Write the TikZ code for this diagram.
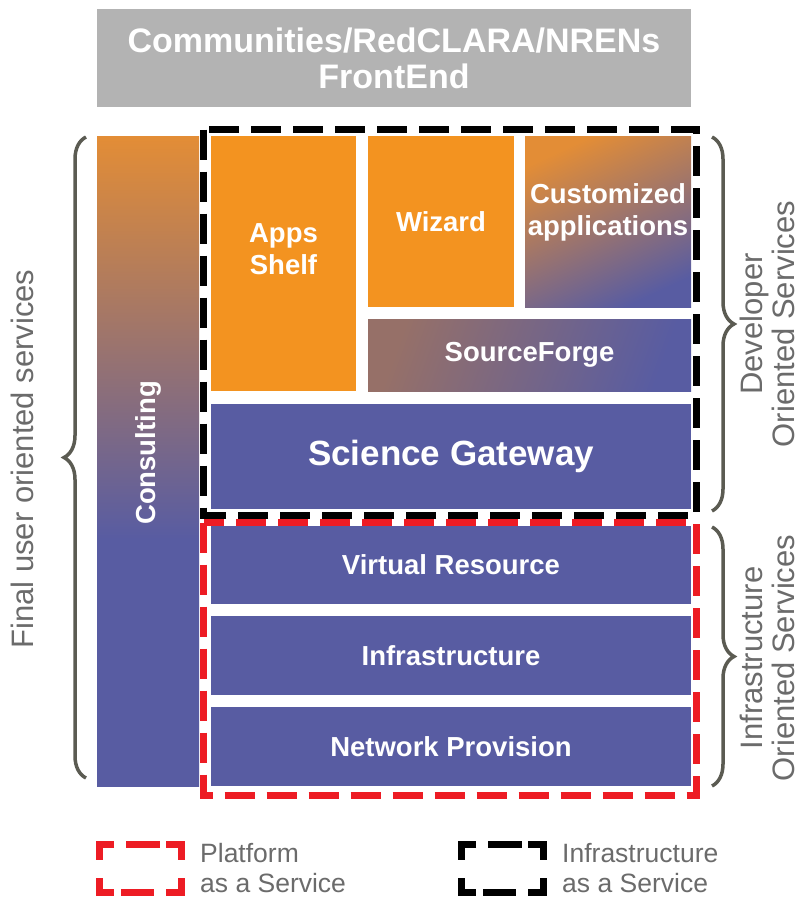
\documentclass[tikz,border=0pt]{standalone}
\usepackage{fontspec}
\setmainfont{Liberation Sans}
\usetikzlibrary{decorations.pathreplacing}

\definecolor{boxorange}{HTML}{F39320}
\definecolor{boxblue}{HTML}{585CA2}
\definecolor{shadeorange}{HTML}{E38D36}
\definecolor{forgemauve}{HTML}{967068}
\definecolor{topgray}{HTML}{B3B3B3}
\definecolor{paasred}{HTML}{ED1C24}
\definecolor{bracegray}{HTML}{5B5B52}
\definecolor{labelgray}{HTML}{6B6B6B}

\pgfdeclareverticalshading{consultshade}{100bp}{color(0bp)=(boxblue); color(44bp)=(boxblue); color(75bp)=(shadeorange); color(100bp)=(shadeorange)}

% legend icon: colour, x offset
\newcommand\legendicon[2]{%
  \begin{scope}[xshift=#2pt, draw=#1, line width=7pt]
    \draw (114,844.5) -- (99.5,844.5) -- (99.5,860);
    \draw (126,844.5) -- (160,844.5);
    \draw (166,844.5) -- (181.5,844.5) -- (181.5,860);
    \draw (99.5,878) -- (99.5,892.5) -- (114,892.5);
    \draw (121,892.5) -- (154,892.5);
    \draw (166,892.5) -- (181.5,892.5) -- (181.5,878);
  \end{scope}}

\begin{document}
\begin{tikzpicture}[x=1pt, y=-1pt,
  layer/.style={rectangle, inner sep=0pt, text=white, align=center, font=\bfseries\fontsize{27.5}{32}\selectfont},
  sidelabel/.style={text=labelgray, align=center, inner sep=0pt, font=\fontsize{31}{32}\selectfont, rotate=90},
  legendtext/.style={text=labelgray, align=left, inner sep=0pt, anchor=west, font=\fontsize{26.5}{30}\selectfont},
  groupbrace/.style={decorate, decoration={brace, amplitude=22pt}, draw=bracegray, line width=3.5pt},
  iaasframe/.style={draw=black, line width=7pt, dash pattern=on 30pt off 12pt},
  paasframe/.style={draw=paasred, line width=7pt, dash pattern=on 30pt off 12pt}]

\useasboundingbox (0,0) rectangle (801,899);

% front end
\node[layer, fill=topgray, minimum width=594pt, minimum height=98pt, font=\bfseries\fontsize{34}{36}\selectfont] (front) at (394,58) {Communities/RedCLARA/NRENs\\FrontEnd};

% consulting column
\node[layer, shade, shading=consultshade, minimum width=102pt, minimum height=650pt] (consult) at (148,461) {};
\node[layer, rotate=90] (consulttext) at ([yshift=8pt]consult.center) {Consulting};

% developer services
\node[layer, fill=boxorange, minimum width=145pt, minimum height=255pt] (apps) at (283.5,263.5) {};
\node[layer] (appstext) at ([yshift=14pt]apps.center) {Apps\\Shelf};
\node[layer, fill=boxorange, minimum width=146pt, minimum height=171pt] (wizard) at (441,221.5) {Wizard};
\node[layer, top color=shadeorange, bottom color=boxblue, shading angle=25, minimum width=166pt, minimum height=171pt] (custom) at (608,221.5) {};
\node[layer] (customtext) at ([yshift=9pt]custom.center) {Customized\\applications};
\node[layer, top color=forgemauve, bottom color=boxblue, shading angle=70, minimum width=323pt, minimum height=72pt] (forge) at (529.5,355) {SourceForge};
\node[layer, fill=boxblue, minimum width=480pt, minimum height=105pt, font=\bfseries\fontsize{35}{40}\selectfont] (gateway) at (451,456.5) {Science Gateway};

% infrastructure services
\node[layer, fill=boxblue, minimum width=480pt, minimum height=78pt] (virtual) at (451,565) {Virtual Resource};
\node[layer, fill=boxblue, minimum width=480pt, minimum height=79pt] (infra) at (451,655.5) {Infrastructure};
\node[layer, fill=boxblue, minimum width=480pt, minimum height=79pt] (network) at (451,746.5) {Network Provision};

% service frames
\draw[iaasframe] (203.5,129.5) rectangle (696.5,515);
\draw[paasframe] (203.5,522.5) rectangle (696.5,795.5);

% braces
\draw[groupbrace] (86,778) -- (86,137);
\draw[groupbrace] (712,137) -- (712,511);
\draw[groupbrace] (712,527) -- (712,786);

\node[sidelabel] (finaluser) at (22,459) {Final user oriented services};
\node[sidelabel] (devlabel) at (767,324) {Developer\\Oriented Services};
\node[sidelabel] (infralabel) at (767,658) {Infrastructure\\Oriented Services};

% legend
\legendicon{paasred}{0}
\legendicon{black}{362}
\node[legendtext] (paaslabel) at (200,868) {Platform\\as a Service};
\node[legendtext] (iaaslabel) at (562,868) {Infrastructure\\as a Service};
\end{tikzpicture}
\end{document}
